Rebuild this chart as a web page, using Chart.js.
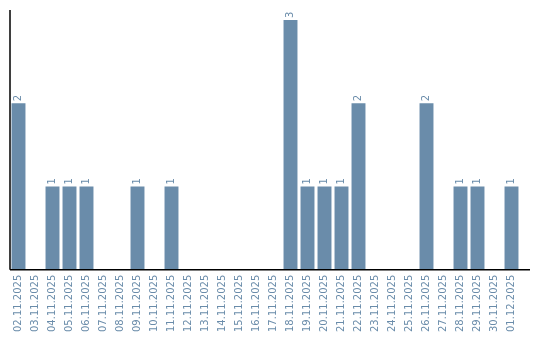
<!DOCTYPE html>
<html>
<head>
<meta charset="utf-8">
<script src="https://cdn.jsdelivr.net/npm/chart.js@4/dist/chart.umd.min.js"></script>
<style>
  html, body { margin: 0; padding: 0; background: #fff; }
  #wrap { width: 540px; height: 340px; }
</style>
</head>
<body>
<div id="wrap"><canvas id="c" width="540" height="340"></canvas></div>
<script>
// dates shown on the x axis
const days = [
  '02.11.2025', '03.11.2025', '04.11.2025', '05.11.2025', '06.11.2025',
  '07.11.2025', '08.11.2025', '09.11.2025', '10.11.2025', '11.11.2025',
  '12.11.2025', '13.11.2025', '14.11.2025', '15.11.2025', '16.11.2025',
  '17.11.2025', '18.11.2025', '19.11.2025', '20.11.2025', '21.11.2025',
  '22.11.2025', '23.11.2025', '24.11.2025', '25.11.2025', '26.11.2025',
  '27.11.2025', '28.11.2025', '29.11.2025', '30.11.2025', '01.12.2025'
];
// count per day
const counts = [2, 0, 1, 1, 1, 0, 0, 1, 0, 1, 0, 0, 0, 0, 0, 0, 3, 1, 1, 1, 2, 0, 0, 0, 2, 0, 1, 1, 0, 1];

const barColor = '#6a8caa';
const textColor = '#6a8caa';

// axis lines (x line runs a bit past the last bar, like the original)
const axisLines = {
  id: 'axisLines',
  afterDatasetsDraw(chart) {
    const { ctx, chartArea } = chart;
    ctx.save();
    ctx.strokeStyle = '#000';
    ctx.lineWidth = 1.5;
    ctx.beginPath();
    ctx.moveTo(chartArea.left, chartArea.top);
    ctx.lineTo(chartArea.left, chartArea.bottom);
    ctx.moveTo(chartArea.left, chartArea.bottom);
    ctx.lineTo(chartArea.right + 10, chartArea.bottom);
    ctx.stroke();
    ctx.restore();
  }
};

// value labels, rotated, above each non-zero bar
const valueLabels = {
  id: 'valueLabels',
  afterDatasetsDraw(chart) {
    const { ctx } = chart;
    const meta = chart.getDatasetMeta(0);
    ctx.save();
    ctx.fillStyle = textColor;
    ctx.font = '10px "DejaVu Sans", sans-serif';
    ctx.textAlign = 'left';
    ctx.textBaseline = 'middle';
    meta.data.forEach((bar, i) => {
      if (!counts[i]) return;
      ctx.save();
      ctx.translate(bar.x, bar.y - 2);
      ctx.rotate(-Math.PI / 2);
      ctx.fillText(String(counts[i]), 0, 0);
      ctx.restore();
    });
    ctx.restore();
  }
};

new Chart(document.getElementById('c'), {
  type: 'bar',
  data: {
    labels: days,
    datasets: [{
      data: counts,
      backgroundColor: barColor,
      borderWidth: 0,
      categoryPercentage: 1,
      barPercentage: 0.82
    }]
  },
  options: {
    responsive: false,
    animation: false,
    events: [],
    layout: { padding: { left: 10, top: 10, right: 20, bottom: 3 } },
    plugins: {
      legend: { display: false },
      tooltip: { enabled: false }
    },
    scales: {
      x: {
        grid: { display: false, drawTicks: false },
        border: { display: false },
        ticks: {
          color: textColor,
          font: { family: 'DejaVu Sans', size: 10 },
          minRotation: 90,
          maxRotation: 90,
          autoSkip: false,
          padding: 5
        }
      },
      y: {
        display: true,
        min: 0,
        max: 3.12,
        grid: { display: false, drawTicks: false },
        border: { display: false },
        ticks: { display: false }
      }
    }
  },
  plugins: [axisLines, valueLabels]
});
</script>
</body>
</html>
